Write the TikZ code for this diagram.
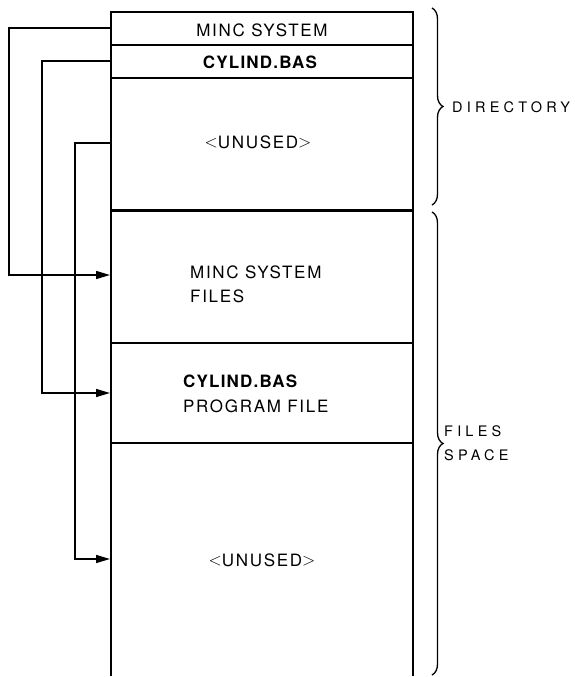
\documentclass[tikz,border=0pt]{standalone}
\usepackage{fontspec}
\setmainfont{TeX Gyre Heros}
\usetikzlibrary{arrows.meta,decorations.pathreplacing}
\newcommand{\ltri}{\raisebox{0.5pt}{$<$}}
\newcommand{\rtri}{\raisebox{0.5pt}{$>$}}
\begin{document}
\begin{tikzpicture}[x=1pt,y=-1pt,
  boxline/.style={line width=2pt},
  sepline/.style={line width=1.2pt},
  thicksep/.style={line width=3pt},
  conn/.style={line width=1.5pt,-{Triangle[length=14pt,width=8pt]}},
  lbl/.style={font=\fontsize{17}{20}\selectfont\addfontfeatures{LetterSpace=10},inner sep=0pt},
  blbl/.style={font=\fontsize{17}{20}\selectfont\bfseries\addfontfeatures{LetterSpace=7},inner sep=0pt},
  side/.style={font=\fontsize{14.5}{24}\selectfont\addfontfeatures{LetterSpace=29},inner sep=0pt,align=left,anchor=west},
  bracestyle/.style={line width=1.3pt,decorate,decoration={brace,amplitude=11pt}}
]
\useasboundingbox (0,0) rectangle (575,677);
% box outline
\draw[boxline] (111,676) -- (111,12) -- (413,12) -- (413,676);
\draw[sepline] (111,45) -- (413,45);
\draw[sepline] (111,78) -- (413,78);
\draw[thicksep] (111,210) -- (413,210);
\draw[sepline] (111,343) -- (413,343);
\draw[sepline] (111,443) -- (413,443);
% texts
\node[lbl] (minc) at (262,30) {MINC SYSTEM};
\node[blbl] (cyl) at (260,62) {CYLIND.BAS};
\node[lbl] (unused1) at (258,142) {\ltri UNUSED\rtri};
\node[lbl,anchor=west] (mincf1) at (190,272) {MINC SYSTEM};
\node[lbl,anchor=west] (mincf2) at (190,296) {FILES};
\node[blbl,anchor=west] (cylf1) at (183,381) {CYLIND.BAS};
\node[lbl,anchor=west] (cylf2) at (183,406) {PROGRAM FILE};
\node[lbl] (unused2) at (262,560) {\ltri UNUSED\rtri};
% connector anchor points on the left edge
\coordinate (s1) at (110,28);
\coordinate (s2) at (110,61);
\coordinate (s3) at (110,143);
\coordinate (t1) at (110,275);
\coordinate (t2) at (110,393);
\coordinate (t3) at (110,559);
\draw[conn] (s1) -| (9,275) -- (t1);
\draw[conn] (s2) -| (42,393) -- (t2);
\draw[conn] (s3) -| (75,559) -- (t3);
% braces
\draw[bracestyle] (432,8) -- (432,205) coordinate[midway] (dm);
\draw[bracestyle] (432,212) -- (432,675) coordinate[midway] (fm);
\node[side] (dir) at (452,107) {DIRECTORY};
\node[side] (fs) at (444,443) {FILES\\SPACE};
\end{tikzpicture}
\end{document}
